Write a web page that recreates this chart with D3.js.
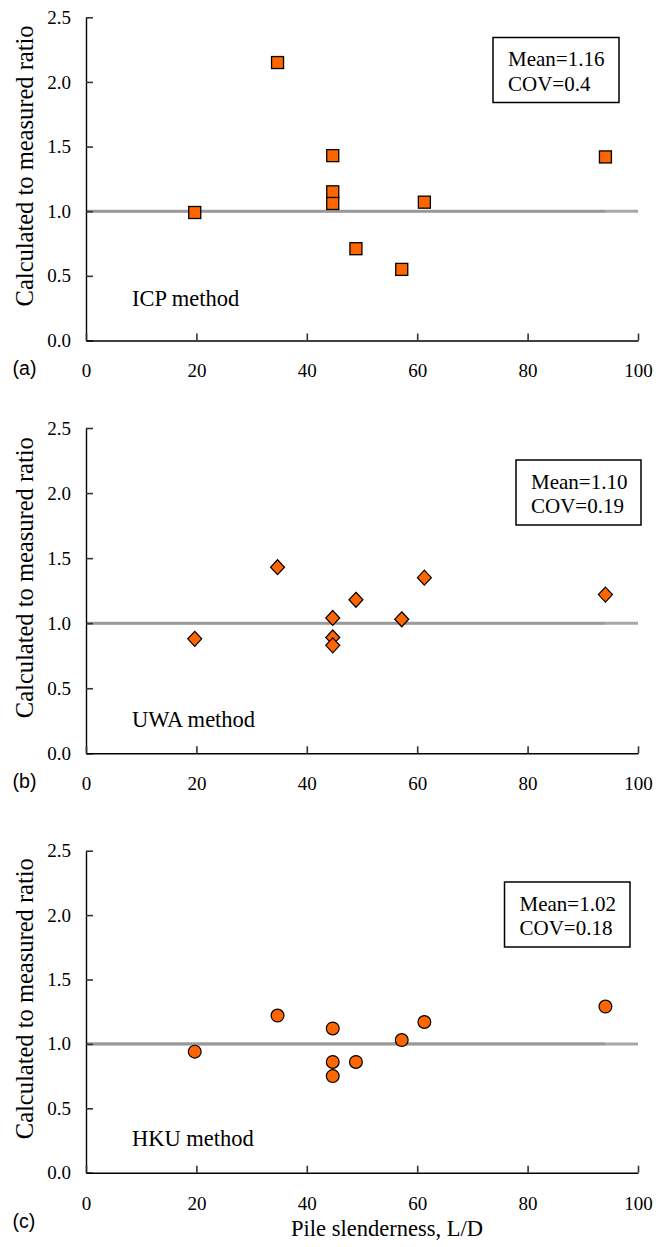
<!DOCTYPE html>
<html>
<head>
<meta charset="utf-8">
<script src="https://cdn.jsdelivr.net/npm/d3@7"></script>
<style>
  body { margin: 0; background: #fff; }
  svg { display: block; }
  .serif { font-family: "Liberation Serif", "Times New Roman", serif; fill: #000; }
  .tag { font-family: "Liberation Sans", Arial, sans-serif; fill: #000; }
</style>
</head>
<body>
<svg id="chart" width="666" height="1247"></svg>
<script>
"use strict";

// pile slenderness L/D (same piles in all three panels)
const slenderness = [19.7, 34.7, 44.7, 44.7, 44.7, 48.9, 57.2, 61.3, 94.1];

// calculated / measured ratio for each method
const icpRatio = [0.99, 2.15, 1.43, 1.15, 1.06, 0.71, 0.55, 1.07, 1.42];
const uwaRatio = [0.88, 1.43, 1.04, 0.89, 0.83, 1.18, 1.03, 1.35, 1.22];
const hkuRatio = [0.94, 1.22, 1.12, 0.86, 0.75, 0.86, 1.03, 1.17, 1.29];

const methodNames = ["ICP method", "UWA method", "HKU method"];
const panelTags = ["(a)", "(b)", "(c)"];
const meanLabels = ["Mean=1.16", "Mean=1.10", "Mean=1.02"];
const covLabels = ["COV=0.4", "COV=0.19", "COV=0.18"];

const xTicks = [0, 20, 40, 60, 80, 100];
const yTicks = [0, 0.5, 1.0, 1.5, 2.0, 2.5];

const orange = "#ff6600";
const svg = d3.select("#chart");

// layout for each panel (pixel positions)
const panels = [
  { top: 17.3, bottom: 340.5, series: icpRatio, marker: "square",
    labelUp: 35, box: [493, 37.5, 126, 65], tagDy: 34 },
  { top: 428, bottom: 753.3, series: uwaRatio, marker: "diamond",
    labelUp: 26.5, box: [516, 460, 125, 65], tagDy: 35 },
  { top: 850.7, bottom: 1172.7, series: hkuRatio, marker: "circle",
    labelUp: 26.5, box: [504.5, 882, 125.5, 65], tagDy: 55 },
];

const left = 86;
const right = 638;

const x = d3.scaleLinear().domain([0, 100]).range([left, right]);

panels.forEach(function (p, i) {
  const y = d3.scaleLinear().domain([0, 2.5]).range([p.bottom, p.top]);
  const g = svg.append("g");

  // reference line at ratio = 1
  g.append("line")
    .attr("x1", x(0)).attr("x2", x(100))
    .attr("y1", y(1)).attr("y2", y(1))
    .attr("stroke", "#a8a8a8").attr("stroke-width", 3);
  g.append("line")
    .attr("x1", x(0)).attr("x2", x(94))
    .attr("y1", y(1)).attr("y2", y(1))
    .attr("stroke", "#999").attr("stroke-width", 2.6);

  const yAxis = g.append("g")
    .attr("transform", `translate(${left},0)`)
    .call(d3.axisLeft(y).tickValues(yTicks).tickFormat(d3.format(".1f"))
      .tickSizeInner(-7).tickSizeOuter(0).tickPadding(15));

  const xAxis = g.append("g")
    .attr("transform", `translate(0,${p.bottom})`)
    .call(d3.axisBottom(x).tickValues(xTicks)
      .tickSizeInner(-7).tickSizeOuter(0).tickPadding(23.5));

  [yAxis, xAxis].forEach(function (ax) {
    ax.select(".domain").attr("stroke", "#000").attr("stroke-width", 1.4);
    ax.selectAll(".tick line").attr("stroke", "#333").attr("stroke-width", 1.6);
    ax.selectAll(".tick text")
      .attr("class", "serif")
      .style("font-size", "19px")
      .attr("fill", "#000");
  });

  // data points
  const pts = g.append("g");
  p.series.forEach(function (v, k) {
    const cx = x(slenderness[k]);
    const cy = y(v);
    if (p.marker === "square") {
      pts.append("rect")
        .attr("x", cx - 6).attr("y", cy - 6)
        .attr("width", 12).attr("height", 12)
        .attr("fill", orange).attr("stroke", "#000").attr("stroke-width", 1.3);
    } else if (p.marker === "diamond") {
      pts.append("path")
        .attr("d", `M${cx},${cy - 7.5}L${cx + 7},${cy}L${cx},${cy + 7.5}L${cx - 7},${cy}Z`)
        .attr("fill", orange).attr("stroke", "#000").attr("stroke-width", 1.2);
    } else {
      pts.append("circle")
        .attr("cx", cx).attr("cy", cy).attr("r", 6.4)
        .attr("fill", orange).attr("stroke", "#000").attr("stroke-width", 1.2);
    }
  });

  // method label
  g.append("text")
    .attr("class", "serif")
    .attr("x", 132)
    .attr("y", p.bottom - p.labelUp)
    .style("font-size", "22.5px")
    .text(methodNames[i]);

  // stats box
  const b = p.box;
  g.append("rect")
    .attr("x", b[0]).attr("y", b[1])
    .attr("width", b[2]).attr("height", b[3])
    .attr("fill", "#fff").attr("stroke", "#000").attr("stroke-width", 1.5);
  g.append("text")
    .attr("class", "serif")
    .attr("x", b[0] + 15).attr("y", b[1] + 28.7)
    .style("font-size", "21px")
    .text(meanLabels[i]);
  g.append("text")
    .attr("class", "serif")
    .attr("x", b[0] + 15).attr("y", b[1] + 53.2)
    .style("font-size", "21px")
    .text(covLabels[i]);

  // y axis title
  g.append("text")
    .attr("class", "serif")
    .attr("transform", `translate(33,${(p.top + p.bottom) / 2 - 13}) rotate(-90)`)
    .attr("text-anchor", "middle")
    .style("font-size", "24.5px")
    .text("Calculated to measured ratio");

  // panel tag
  g.append("text")
    .attr("class", "tag")
    .attr("x", 12.5)
    .attr("y", p.bottom + p.tagDy)
    .style("font-size", "19.6px")
    .text(panelTags[i]);
});

// x axis title under the last panel
svg.append("text")
  .attr("class", "serif")
  .attr("x", 387)
  .attr("y", 1236)
  .attr("text-anchor", "middle")
  .style("font-size", "22.5px")
  .text("Pile slenderness, L/D");
</script>
</body>
</html>
